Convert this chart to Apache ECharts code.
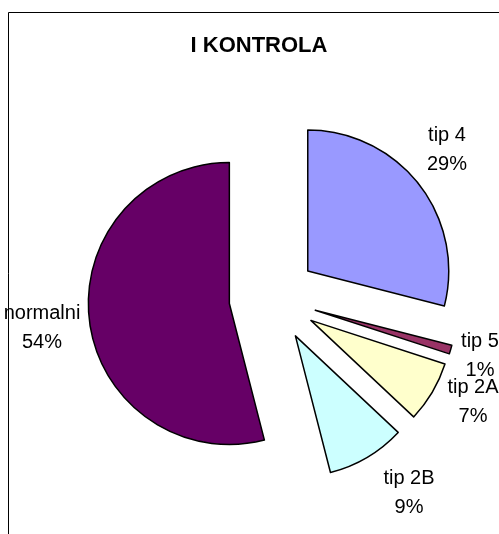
<!DOCTYPE html>
<html>
<head>
<meta charset="utf-8">
<script src="https://cdn.jsdelivr.net/npm/echarts@6/dist/echarts.min.js"></script>
<style>
html,body{margin:0;padding:0;background:#fff;}
#chart{width:499px;height:534px;}
</style>
</head>
<body>
<div id="chart"></div>
<script>
const categories = ['tip 4', 'tip 5', 'tip 2A', 'tip 2B', 'normalni'];
const values = [29, 1, 7, 9, 54];
const colors = ['#9999FF', '#993366', '#FFFFCC', '#CCFFFF', '#660066'];
const title = 'I KONTROLA';

const labelPlaces = [
  [447, 150], [480, 356], [473, 402], [409, 493], [42, 328]
];

const total = values.reduce((a, b) => a + b, 0);
const labelTexts = categories.map((c, i) => ({
  type: 'text',
  x: labelPlaces[i][0],
  y: labelPlaces[i][1],
  silent: true,
  z: 10,
  style: {
    text: c + '\n' + Math.round(values[i] / total * 100) + '%',
    fill: '#000',
    font: '20px "Liberation Sans", Arial, sans-serif',
    lineHeight: 29,
    align: 'center',
    verticalAlign: 'middle'
  }
}));

const chart = echarts.init(document.getElementById('chart'), null, {renderer: 'canvas'});
chart.setOption({
  animation: false,
  backgroundColor: '#ffffff',
  title: {
    text: title,
    left: 254, top: 41,
    textAlign: 'center', textVerticalAlign: 'middle',
    textStyle: {fontFamily: 'Liberation Sans, Arial, sans-serif', fontSize: 22, fontWeight: 'bold', color: '#000'}
  },
  graphic: [{
    type: 'rect', shape: {x: 8.5, y: 12.5, width: 700, height: 700},
    style: {fill: 'none', stroke: '#000', lineWidth: 1}, silent: true
  }].concat(labelTexts),
  series: [{
    type: 'pie',
    center: [273, 298],
    radius: 141,
    startAngle: 90,
    clockwise: true,
    avoidLabelOverlap: false,
    selectedMode: 'multiple',
    selectedOffset: 44,
    emphasis: {disabled: true},
    itemStyle: {borderColor: '#000', borderWidth: 1.5},
    label: {show: false},
    labelLine: {show: false},
    data: categories.map((c, i) => ({
      name: c, value: values[i], selected: true,
      itemStyle: {color: colors[i]}
    }))
  }]
});
</script>
</body>
</html>
